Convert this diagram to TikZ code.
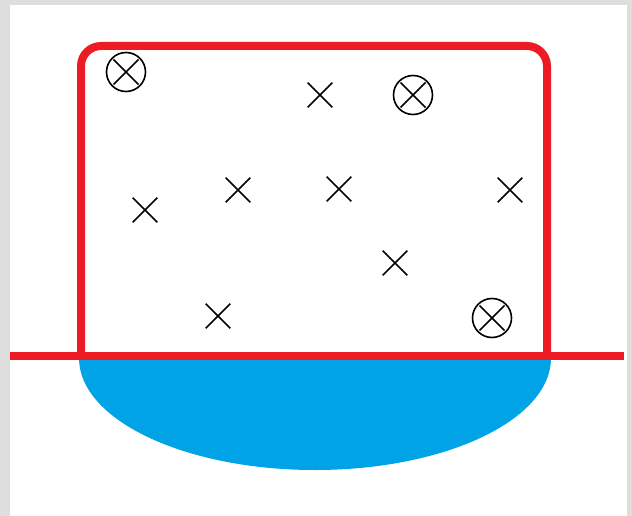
\documentclass[tikz,border=0pt]{standalone}
\usetikzlibrary{shapes.misc}
\definecolor{paintred}{RGB}{237,28,36}
\definecolor{paintblue}{RGB}{0,163,229}
\definecolor{framegray}{RGB}{222,222,222}
\begin{document}
\begin{tikzpicture}[x=1pt,y=-1pt,
  xmark/.style={cross out,draw=black,line width=1.6pt,minimum size=23pt,inner sep=0pt},
  omark/.style={circle,draw=black,line width=1.6pt,minimum size=39pt,inner sep=0pt,
    path picture={\draw[line width=1.6pt]
      ([shift={(-12.5,-12.5)}]path picture bounding box.center) -- ([shift={(12.5,12.5)}]path picture bounding box.center)
      ([shift={(-12.5,12.5)}]path picture bounding box.center) -- ([shift={(12.5,-12.5)}]path picture bounding box.center);}},
  redline/.style={draw=paintred,line width=8pt}]
\fill[framegray] (0,0) rectangle (632,516);
\fill[white] (10,5) rectangle (627,516);
\useasboundingbox (0,0) rectangle (632,516);
% blue half ellipse
\fill[paintblue] (79,358) arc[start angle=180,end angle=0,x radius=236,y radius=112] -- cycle;
% red frame
\coordinate (bl) at (81,356);
\coordinate (tl) at (81,46);
\coordinate (tr) at (547,46);
\coordinate (br) at (547,356);
\draw[redline,rounded corners=20pt] (bl) -- (tl) -- (tr) -- (br);
\coordinate (gl) at (10,356);
\coordinate (gr) at (624,356);
\draw[redline] (gl) -- (gr);
% markers
\node[omark] (o1) at (126,72) {};
\node[omark] (o2) at (413,95) {};
\node[omark] (o3) at (492,318) {};
\node[xmark] (x1) at (320,95) {};
\node[xmark] (x2) at (238,190) {};
\node[xmark] (x3) at (339,189) {};
\node[xmark] (x4) at (510,190) {};
\node[xmark] (x5) at (145,210) {};
\node[xmark] (x6) at (395,263) {};
\node[xmark] (x7) at (218,316) {};
\end{tikzpicture}
\end{document}
